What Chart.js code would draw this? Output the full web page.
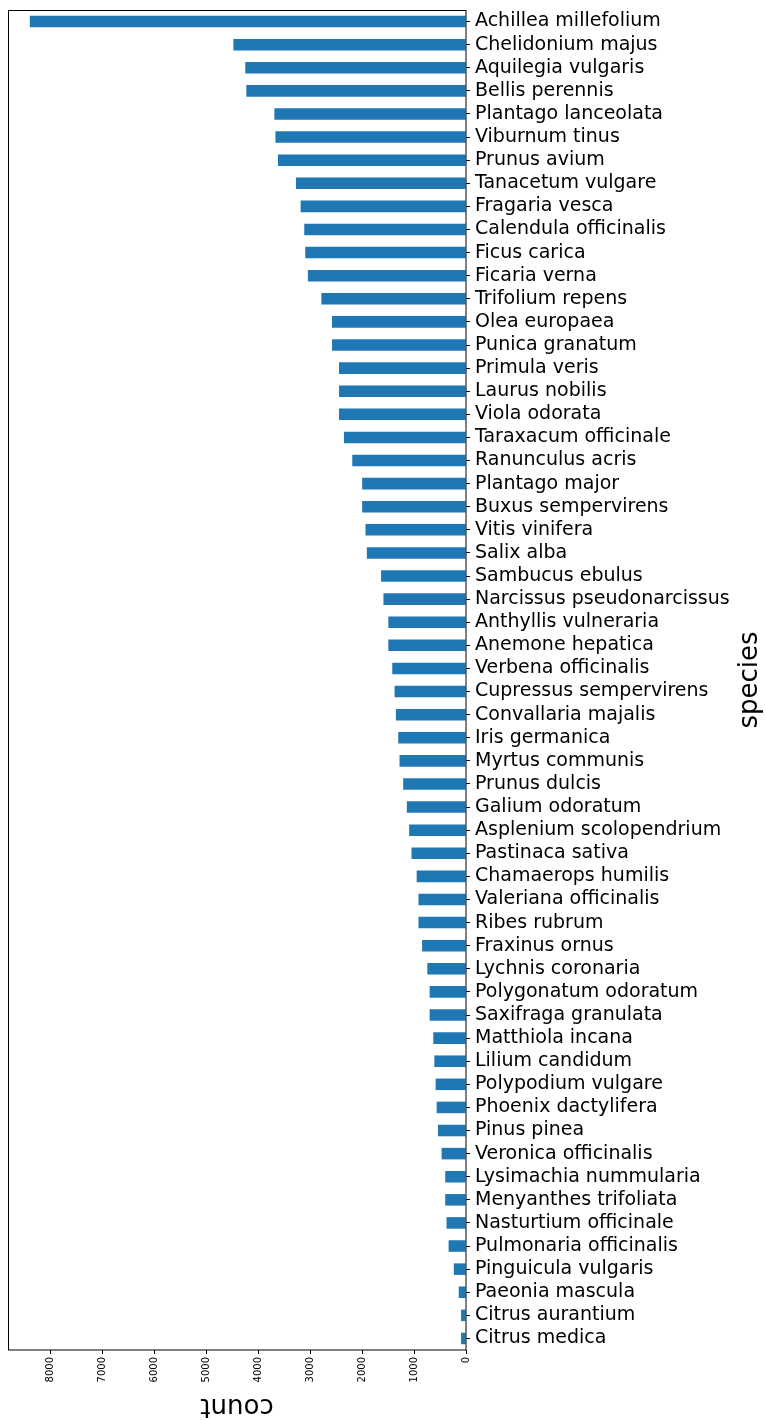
<!DOCTYPE html>
<html>
<head>
<meta charset="utf-8">
<script src="https://cdn.jsdelivr.net/npm/chart.js@4/dist/chart.umd.min.js"></script>
<style>
html,body{margin:0;padding:0;background:#fff;}
#c{display:block;}
</style>
</head>
<body>
<canvas id="c" width="766" height="1420"></canvas>
<script>
const species = [
  "Achillea millefolium","Chelidonium majus","Aquilegia vulgaris","Bellis perennis",
  "Plantago lanceolata","Viburnum tinus","Prunus avium","Tanacetum vulgare",
  "Fragaria vesca","Calendula officinalis","Ficus carica","Ficaria verna",
  "Trifolium repens","Olea europaea","Punica granatum","Primula veris",
  "Laurus nobilis","Viola odorata","Taraxacum officinale","Ranunculus acris",
  "Plantago major","Buxus sempervirens","Vitis vinifera","Salix alba",
  "Sambucus ebulus","Narcissus pseudonarcissus","Anthyllis vulneraria","Anemone hepatica",
  "Verbena officinalis","Cupressus sempervirens","Convallaria majalis","Iris germanica",
  "Myrtus communis","Prunus dulcis","Galium odoratum","Asplenium scolopendrium",
  "Pastinaca sativa","Chamaerops humilis","Valeriana officinalis","Ribes rubrum",
  "Fraxinus ornus","Lychnis coronaria","Polygonatum odoratum","Saxifraga granulata",
  "Matthiola incana","Lilium candidum","Polypodium vulgare","Phoenix dactylifera",
  "Pinus pinea","Veronica officinalis","Lysimachia nummularia","Menyanthes trifoliata",
  "Nasturtium officinale","Pulmonaria officinalis","Pinguicula vulgaris","Paeonia mascula",
  "Citrus aurantium","Citrus medica"
];
const counts = [
  8400,4480,4250,4230,
  3690,3670,3620,3275,
  3185,3115,3095,3045,
  2785,2580,2580,2445,
  2445,2445,2350,2190,
  2000,2000,1935,1910,
  1635,1590,1495,1495,
  1420,1375,1350,1305,
  1280,1210,1140,1095,
  1050,950,915,915,
  845,745,700,700,
  630,610,585,565,
  540,470,400,400,
  375,335,235,140,
  95,95
];
const countTicks = [0,1000,2000,3000,4000,5000,6000,7000,8000];
const countMax = 8820;
const xTitle = "count";
const yTitle = "species";

const FONT = "'DejaVu Sans', sans-serif";

const decor = {
  id: 'decor',
  afterDatasetsDraw(chart) {
    const ctx = chart.ctx, a = chart.chartArea;
    ctx.save();
    ctx.strokeStyle = '#000';
    ctx.lineWidth = 1;
    ctx.strokeRect(Math.round(a.left) + 0.5, Math.round(a.top) + 0.5,
                   Math.round(a.right - a.left) - 0.5, Math.round(a.bottom - a.top) - 0.5);
    ctx.restore();
  },
  afterDraw(chart) {
    const ctx = chart.ctx, a = chart.chartArea;
    ctx.save();
    ctx.fillStyle = '#000';
    ctx.font = '26px ' + FONT;
    ctx.textAlign = 'center';
    ctx.textBaseline = 'middle';
    ctx.translate((a.left + a.right) / 2, 1406);
    ctx.rotate(Math.PI);
    ctx.fillText(xTitle, 0, 0);
    ctx.restore();
    ctx.save();
    ctx.fillStyle = '#000';
    ctx.font = '26px ' + FONT;
    ctx.textAlign = 'center';
    ctx.textBaseline = 'middle';
    ctx.translate(750, (a.top + a.bottom) / 2);
    ctx.rotate(-Math.PI / 2);
    ctx.fillText(yTitle, 0, 0);
    ctx.restore();
  }
};

new Chart(document.getElementById('c'), {
  type: 'bar',
  data: {
    labels: species,
    datasets: [{
      data: counts,
      backgroundColor: '#1f77b4',
      borderWidth: 0,
      categoryPercentage: 1.0,
      barPercentage: 0.5
    }]
  },
  options: {
    indexAxis: 'y',
    responsive: false,
    animation: false,
    events: [],
    layout: { padding: { left: 8, top: 10, right: 0, bottom: 0 } },
    plugins: { legend: { display: false }, tooltip: { enabled: false } },
    scales: {
      x: {
        type: 'linear',
        position: 'bottom',
        reverse: true,
        min: 0,
        max: countMax,
        afterBuildTicks(scale) { scale.ticks = countTicks.map(v => ({ value: v })); },
        afterFit(scale) { scale.height = 70; scale.paddingLeft = 0; scale.paddingRight = 0; },
        ticks: {
          minRotation: 90, maxRotation: 90,
          autoSkip: false,
          padding: 3,
          color: '#000',
          font: { family: FONT, size: 10 },
          callback: v => String(v)
        },
        grid: { display: true, drawOnChartArea: false, drawTicks: true, tickLength: 4, color: '#000', lineWidth: 1 },
        border: { display: false }
      },
      y: {
        type: 'category',
        position: 'right',
        offset: true,
        afterFit(scale) { scale.width = 300; scale.paddingTop = 0; scale.paddingBottom = 0; },
        ticks: {
          autoSkip: false,
          padding: 5,
          color: '#000',
          font: { family: FONT, size: 19 }
        },
        grid: { display: true, drawOnChartArea: false, drawTicks: true, tickLength: 4, color: '#000', lineWidth: 1, offset: false },
        border: { display: false }
      }
    }
  },
  plugins: [decor]
});
</script>
</body>
</html>
